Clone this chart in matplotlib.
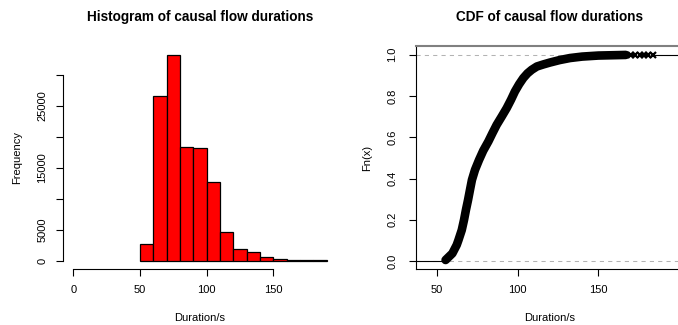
import numpy as np
import matplotlib
matplotlib.use("Agg")
import matplotlib.pyplot as plt

# R-like look: Helvetica metrics -> Liberation Sans
plt.rcParams['font.family'] = ['Liberation Sans', 'DejaVu Sans']
plt.rcParams['font.size'] = 8

# histogram data (10 s bins)
bin_edges = [50, 60, 70, 80, 90, 100, 110, 120, 130, 140, 150, 160, 170, 180, 190]
counts = [2740, 26600, 33200, 18400, 18200, 12740, 4630, 1940, 1400, 600, 270, 100, 150, 80]
freq_ticks = [0, 5000, 10000, 15000, 20000, 25000, 30000]
freq_labels = ["0", "5000", "", "15000", "", "25000", ""]
dur_ticks = [0, 50, 100, 150]

# ECDF
cdf_x = [55.5, 57.6, 59.7, 62.4, 63.4, 65.5, 66.9, 68.1, 69.4, 70.6, 71.8, 73.7,
         76.2, 78.8, 82.0, 84.5, 87.1, 90.2, 93.3, 96.0, 98.4, 101.0, 103.6,
         106.2, 108.8, 112.0, 116.0, 120.0, 126.0, 132.5, 140.0, 150.0, 167.0]
cdf_y = [0.005, 0.021, 0.037, 0.078, 0.10, 0.15, 0.199, 0.248, 0.296, 0.345, 0.393, 0.442,
         0.49, 0.535, 0.58, 0.62, 0.66, 0.70, 0.741, 0.782, 0.822, 0.857, 0.887,
         0.91, 0.927, 0.943, 0.953, 0.962, 0.974, 0.984, 0.991, 0.996, 0.999]
# sparse points in the tail
tail_x = [170, 173, 175.5, 178, 181, 184]
tail_y = [1.0, 1.0, 1.0, 1.0, 1.0, 1.0]
cdf_ticks = [0.0, 0.2, 0.4, 0.6, 0.8, 1.0]

fig = plt.figure(figsize=(6.78, 3.25), dpi=100)
ax1 = fig.add_axes([0.0934, 0.1714, 0.4034, 0.6856])
ax2 = fig.add_axes([0.6131, 0.1714, 0.3950, 0.6856])

# ---- histogram ----
widths = np.diff(bin_edges)
ax1.bar(bin_edges[:-1], counts, width=widths, align='edge',
        color='#ff0000', edgecolor='black', linewidth=0.9)
ax1.set_xlim(-7.6, 197.6)
ax1.set_ylim(-1340, 34600)
ax1.spines['top'].set_visible(False)
ax1.spines['right'].set_visible(False)
ax1.spines['left'].set_bounds(0, 30000)
ax1.spines['bottom'].set_bounds(0, 150)
ax1.set_xticks(dur_ticks)
ax1.set_yticks(freq_ticks)
ax1.set_yticklabels(freq_labels, rotation=90, va='center')
ax1.tick_params(axis='both', length=4.7, width=0.8)
ax1.tick_params(axis='x', pad=6.3)
ax1.tick_params(axis='y', pad=6.8)
ax1.set_title("Histogram of causal flow durations", fontsize=9.8, fontweight='bold', pad=18)
ax1.set_xlabel("Duration/s")
ax1.set_ylabel("Frequency")
ax1.xaxis.set_label_coords(0.5, -0.196)
ax1.yaxis.set_label_coords(-0.151, 0.5)

# ---- ECDF ----
ax2.axhline(0, color='0.7', lw=0.75, dashes=(4, 4), zorder=1)
ax2.axhline(1, color='0.7', lw=0.75, dashes=(4, 4), zorder=1)
ax2.plot([37.0, cdf_x[0]], [0, 0], color='black', lw=0.8, zorder=2)
ax2.plot([tail_x[-1], 202.7], [1, 1], color='black', lw=0.8, zorder=2)
ax2.plot(cdf_x, cdf_y, color='black', lw=6.2, solid_capstyle='round',
         solid_joinstyle='round', zorder=3)
ax2.plot(tail_x, tail_y, 'x', color='black', ms=4.5, mew=1.6, zorder=3)
ax2.set_xlim(37.0, 202.7)
ax2.set_ylim(-0.04, 1.04)
ax2.set_xticks([50, 100, 150])
ax2.set_yticks(cdf_ticks)
ax2.set_yticklabels([f"{v:.1f}" for v in cdf_ticks], rotation=90, va='center')
ax2.tick_params(axis='both', length=4.7, width=0.8)
ax2.tick_params(axis='x', pad=6.3)
ax2.tick_params(axis='y', pad=8.5)
ax2.spines['top'].set_color('0.5')
ax2.spines['top'].set_linewidth(1.5)
ax2.set_title("CDF of causal flow durations", fontsize=9.8, fontweight='bold', pad=18)
ax2.set_xlabel("Duration/s")
ax2.set_ylabel("Fn(x)")
ax2.xaxis.set_label_coords(0.5, -0.196)
ax2.yaxis.set_label_coords(-0.163, 0.5)

fig.savefig("out.png", dpi=100)
